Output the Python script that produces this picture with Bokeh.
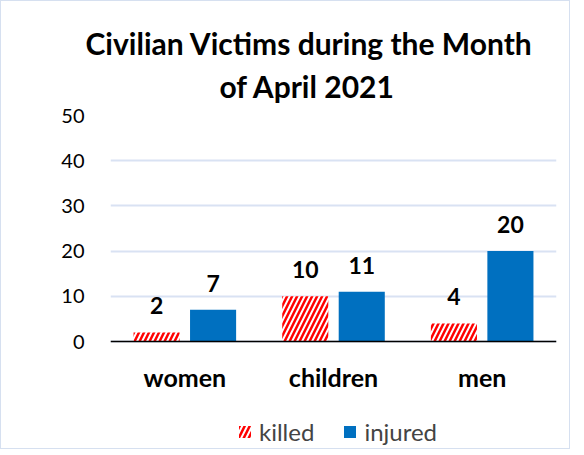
from bokeh.plotting import figure
from bokeh.models import (FactorRange, ColumnDataSource, Title, Legend, LegendItem,
                          Range1d, FixedTicker)
from bokeh.transform import dodge
from bokeh.core.properties import value
from bokeh.embed import file_html
from bokeh.resources import INLINE

categories = ["women", "children", "men"]
killed = [2, 10, 4]
injured = [7, 11, 20]
y_ticks = [0, 10, 20, 30, 40, 50]
title_line1 = "Civilian Victims during the Month"
title_line2 = "of April 2021"

FONT = "Lato"
RED = "#FF0000"
BLUE = "#0070C0"
GRID = "#D9E2F3"

source = ColumnDataSource(dict(
    cat=categories,
    killed=killed,
    injured=injured,
    killed_lbl=[str(v) for v in killed],
    injured_lbl=[str(v) for v in injured],
))

# frame extends below y=0 so the category axis (pinned at 0) and legend sit inside it
p = figure(x_range=FactorRange(*categories, range_padding=0),
           y_range=Range1d(-23.67, 50),
           frame_width=446, frame_height=333,
           output_backend="svg", toolbar_location=None,
           title=None,
           min_border_left=109, min_border_right=13,
           min_border_top=114, min_border_bottom=0)

p.outline_line_color = None
p.background_fill_color = "white"
p.border_fill_color = "white"
p.styles = {"border": "1px solid #D6E0F0"}

BW = 0.31
OFF = 0.19
r_k = p.vbar(x=dodge("cat", -OFF, range=p.x_range), top="killed", width=BW, source=source,
             fill_color="white", line_color=None,
             hatch_pattern="/", hatch_color=RED, hatch_weight=2.5, hatch_scale=10)
r_i = p.vbar(x=dodge("cat", OFF, range=p.x_range), top="injured", width=BW, source=source,
             fill_color=BLUE, line_color=None)

for col, lbl, off in (("killed", "killed_lbl", -OFF), ("injured", "injured_lbl", OFF)):
    p.text(x=dodge("cat", off, range=p.x_range), y=col, text=lbl, source=source,
           text_font=value(FONT), text_font_style="bold", text_font_size="23px",
           text_color="black", text_align="center", text_baseline="bottom", y_offset=-18)

# y axis
p.yaxis.ticker = FixedTicker(ticks=y_ticks)
p.yaxis.axis_line_color = None
p.yaxis.major_tick_line_color = None
p.yaxis.minor_tick_line_color = None
p.yaxis.major_label_text_font = FONT
p.yaxis.major_label_text_font_size = "20px"
p.yaxis.major_label_text_color = "black"
p.yaxis.major_label_standoff = 20

# x axis pinned at y = 0
p.xaxis.fixed_location = 0
p.xaxis.axis_line_color = "black"
p.xaxis.axis_line_width = 1.5
p.xaxis.major_tick_line_color = None
p.xaxis.minor_tick_line_color = None
p.xaxis.major_label_text_font = FONT
p.xaxis.major_label_text_font_style = "bold"
p.xaxis.major_label_text_font_size = "25px"
p.xaxis.major_label_text_color = "black"
p.xaxis.major_label_standoff = 14

p.xgrid.grid_line_color = None
p.ygrid.grid_line_color = GRID
p.ygrid.grid_line_width = 2

# titles (second line first so it sits nearest to the plot)
p.add_layout(Title(text=title_line2, align="left", offset=109, text_font=FONT,
                   text_font_style="bold", text_font_size="30px",
                   text_color="black", standoff=24), "above")
p.add_layout(Title(text=title_line1, align="left", offset=-25, text_font=FONT,
                   text_font_style="bold", text_font_size="30px",
                   text_color="black", standoff=-14), "above")

legend = Legend(items=[LegendItem(label="killed", renderers=[r_k]),
                       LegendItem(label="injured", renderers=[r_i])],
                orientation="horizontal", location=(127, 2),
                label_text_font=FONT, label_text_font_size="24px",
                label_height=20, label_standoff=7,
                glyph_width=15, glyph_height=15, spacing=28, padding=0,
                border_line_color=None, background_fill_alpha=0, margin=0)
p.add_layout(legend)

open("out.html", "w").write(file_html(p, INLINE))
